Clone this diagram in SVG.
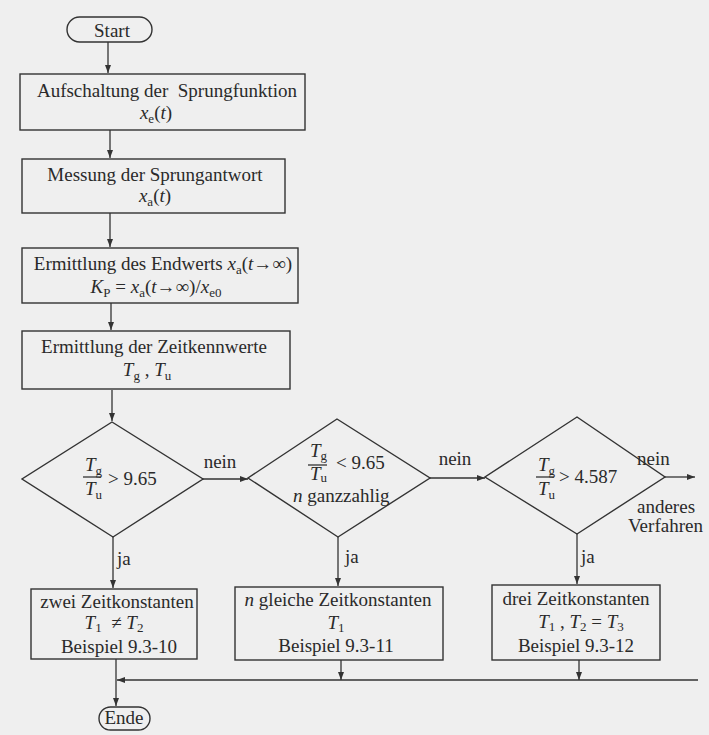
<svg xmlns="http://www.w3.org/2000/svg" width="709" height="735" viewBox="0 0 709 735">
<defs>
<marker id="ah" markerUnits="userSpaceOnUse" markerWidth="9" markerHeight="7" refX="8" refY="3.5" orient="auto">
<path d="M0,0.5 L8,3.5 L0,6.5 z" fill="#333"/>
</marker>
<style>
.bg{fill:#efefef}
.sh{fill:none;stroke:#333;stroke-width:1.4}
.cn{fill:none;stroke:#333;stroke-width:1.3}
.ar{marker-end:url(#ah)}
text{font-family:"Liberation Serif","Times New Roman",serif;font-size:19px;fill:#2a2a2a}
.c{text-anchor:middle}
.i{font-style:italic}
.s{font-size:13px;font-style:normal}
</style>
</defs>
<rect class="bg" x="0" y="0" width="709" height="735"/>

<g id="connectors">
<path class="cn ar" d="M108,42 V73"/>
<path class="cn ar" d="M110,130 V158"/>
<path class="cn ar" d="M110,213 V247"/>
<path class="cn ar" d="M111,303 V330"/>
<path class="cn ar" d="M112,390 V421"/>
<path class="cn ar" d="M203,479 H248"/>
<path class="cn ar" d="M430,478 H485"/>
<path class="cn ar" d="M665,477 H695"/>
<path class="cn ar" d="M113,537 V588"/>
<path class="cn ar" d="M338,537 V586"/>
<path class="cn ar" d="M577,534 V584"/>
<path class="cn ar" d="M341,660 V680"/>
<path class="cn ar" d="M579,660 V680"/>
<path class="cn ar" d="M698,680 H117"/>
<path class="cn ar" d="M116,659 V706"/>
<text x="220" y="468" class="c">nein</text>
<text x="455" y="465" class="c">nein</text>
<text x="637" y="465">nein</text>
<text x="637" y="513">anderes</text>
<text x="628" y="532">Verfahren</text>
<text x="117" y="565">ja</text>
<text x="345" y="563">ja</text>
<text x="581" y="563">ja</text>
</g>

<g id="start">
<rect class="sh" x="67" y="17" width="85" height="25" rx="12.5"/>
<text x="112" y="37" class="c">Start</text>
</g>

<g id="box1">
<rect class="sh" x="20" y="74" width="285" height="56"/>
<text x="167" y="97" class="c" xml:space="preserve">Aufschaltung der  Sprungfunktion</text>
<text x="156" y="119" class="c"><tspan class="i">x</tspan><tspan class="s" dy="4">e</tspan><tspan dy="-4">(</tspan><tspan class="i">t</tspan>)</text>
</g>

<g id="box2">
<rect class="sh" x="22" y="159" width="263" height="54"/>
<text x="155" y="181" class="c">Messung der Sprungantwort</text>
<text x="155" y="202" class="c"><tspan class="i">x</tspan><tspan class="s" dy="4">a</tspan><tspan dy="-4">(</tspan><tspan class="i">t</tspan>)</text>
</g>

<g id="box3">
<rect class="sh" x="22" y="248" width="276" height="55"/>
<text x="163" y="270" class="c">Ermittlung des Endwerts <tspan class="i">x</tspan><tspan class="s" dy="4">a</tspan><tspan dy="-4">(</tspan><tspan class="i">t</tspan>→∞)</text>
<text x="156" y="293" class="c"><tspan class="i">K</tspan><tspan class="s" dy="4">P</tspan><tspan dy="-4"> = </tspan><tspan class="i">x</tspan><tspan class="s" dy="4">a</tspan><tspan dy="-4">(</tspan><tspan class="i">t</tspan>→∞)/<tspan class="i">x</tspan><tspan class="s" dy="4">e0</tspan></text>
</g>

<g id="box4">
<rect class="sh" x="22" y="331" width="268" height="58"/>
<text x="154" y="353" class="c">Ermittlung der Zeitkennwerte</text>
<text x="147" y="376" class="c"><tspan class="i">T</tspan><tspan class="s" dy="4">g</tspan><tspan dy="-4"> , </tspan><tspan class="i">T</tspan><tspan class="s" dy="4">u</tspan></text>
</g>

<g id="decision1">
<path class="sh" d="M112,422 L203,479 L113,537 L22,479 Z"/>
<text x="85" y="471"><tspan class="i">T</tspan><tspan class="s" dy="4">g</tspan></text>
<path class="cn" d="M83,477 H101"/>
<text x="85" y="495"><tspan class="i">T</tspan><tspan class="s" dy="4">u</tspan></text>
<text x="108" y="485">&gt; 9.65</text>
</g>

<g id="decision2">
<path class="sh" d="M337,419 L430,478 L338,537 L248,478 Z"/>
<text x="310" y="457"><tspan class="i">T</tspan><tspan class="s" dy="3">g</tspan></text>
<path class="cn" d="M308,465 H327"/>
<text x="310" y="480"><tspan class="i">T</tspan><tspan class="s" dy="2">u</tspan></text>
<text x="336" y="469">&lt; 9.65</text>
<text x="293" y="502"><tspan class="i">n</tspan> ganzzahlig</text>
</g>

<g id="decision3">
<path class="sh" d="M577,417 L665,477 L577,534 L485,477 Z"/>
<text x="538" y="471"><tspan class="i">T</tspan><tspan class="s" dy="4">g</tspan></text>
<path class="cn" d="M536,477 H554"/>
<text x="538" y="495"><tspan class="i">T</tspan><tspan class="s" dy="4">u</tspan></text>
<text x="559" y="483">&gt; 4.587</text>
</g>

<g id="box5">
<rect class="sh" x="31" y="589" width="166" height="70"/>
<text x="117" y="608" class="c">zwei Zeitkonstanten</text>
<text x="114" y="629" class="c" xml:space="preserve"><tspan class="i">T</tspan><tspan class="s" dy="3">1</tspan><tspan dy="-3">  ≠ </tspan><tspan class="i">T</tspan><tspan class="s" dy="3">2</tspan></text>
<text x="119" y="653" class="c">Beispiel 9.3-10</text>
</g>

<g id="box6">
<rect class="sh" x="235" y="587" width="208" height="73"/>
<text x="338" y="606" class="c"><tspan class="i">n</tspan> gleiche Zeitkonstanten</text>
<text x="336" y="629" class="c"><tspan class="i">T</tspan><tspan class="s" dy="3">1</tspan></text>
<text x="336" y="652" class="c">Beispiel 9.3-11</text>
</g>

<g id="box7">
<rect class="sh" x="492" y="585" width="168" height="75"/>
<text x="576" y="605" class="c">drei Zeitkonstanten</text>
<text x="581" y="628" class="c"><tspan class="i">T</tspan><tspan class="s" dy="3">1</tspan><tspan dy="-3"> , </tspan><tspan class="i">T</tspan><tspan class="s" dy="3">2</tspan><tspan dy="-3"> = </tspan><tspan class="i">T</tspan><tspan class="s" dy="3">3</tspan></text>
<text x="576" y="652" class="c">Beispiel 9.3-12</text>
</g>

<g id="end">
<rect class="sh" x="99" y="707" width="51" height="23" rx="11.5"/>
<text x="124" y="724" class="c">Ende</text>
</g>
</svg>
